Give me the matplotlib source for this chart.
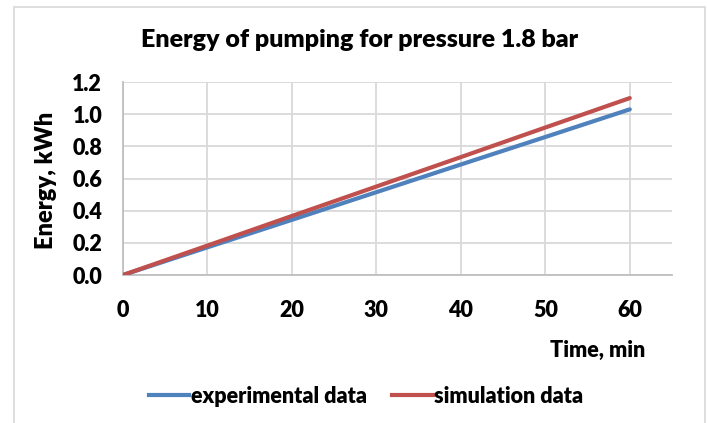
import matplotlib
matplotlib.use("Agg")
import matplotlib.pyplot as plt
from matplotlib.lines import Line2D
from matplotlib.patches import Rectangle

time_min = [0, 10, 20, 30, 40, 50, 60]
experimental = [0.0, 0.172, 0.343, 0.515, 0.687, 0.858, 1.03]
simulation = [0.0, 0.183, 0.367, 0.55, 0.733, 0.917, 1.10]
x_ticks = [0, 10, 20, 30, 40, 50, 60]
y_ticks = [0.0, 0.2, 0.4, 0.6, 0.8, 1.0, 1.2]
title = "Energy of pumping for pressure 1.8 bar"
xlabel = "Time, min"
ylabel = "Energy, kWh"
labels = ["experimental data", "simulation data"]

BLUE = "#4F81BD"
RED = "#C0504D"
W, H = 707, 423
FW = "heavy"
FS = 15.5

plt.rcParams['font.family'] = ['Lato', 'DejaVu Sans']

fig = plt.figure(figsize=(W / 100, H / 100), dpi=100)
fig.patch.set_facecolor("white")
fig.patches.append(Rectangle((14 / W, -0.05), (705 - 14) / W, 1.05 - 7 / H,
                             transform=fig.transFigure, fill=False,
                             edgecolor="#D9D9D9", linewidth=1.2))

ax = fig.add_axes([123 / W, 1 - 275 / H, (672 - 123) / W, (275 - 82) / H])
ax.plot(time_min, experimental, color=BLUE, linewidth=3.0, solid_capstyle="round", zorder=3)
ax.plot(time_min, simulation, color=RED, linewidth=3.0, solid_capstyle="round", zorder=4)

ax.set_xlim(0, 65)
ax.set_ylim(0, 1.2)
ax.set_xticks(x_ticks)
ax.set_yticks(y_ticks)
ax.set_xticklabels([str(t) for t in x_ticks], fontsize=FS, fontweight=FW)
ax.set_yticklabels([f"{t:.1f}" for t in y_ticks], fontsize=FS, fontweight=FW)
ax.tick_params(axis="both", length=0)
ax.tick_params(axis="x", pad=18)
ax.tick_params(axis="y", pad=15)
ax.grid(True, color="#D9D9D9", linewidth=1.3)
ax.set_axisbelow(True)
for s in ["top", "right"]:
    ax.spines[s].set_visible(False)
for s in ["left", "bottom"]:
    ax.spines[s].set_color("#BFBFBF")
    ax.spines[s].set_linewidth(1.3)

fig.text(360 / W, 1 - 40 / H, title, ha="center", va="center", fontsize=18, fontweight=FW)
fig.text(598 / W, 1 - 350 / H, xlabel, ha="center", va="center", fontsize=FS, fontweight=FW)
fig.text(46 / W, 1 - 180 / H, ylabel, ha="center", va="center", rotation=90,
         fontsize=17, fontweight=FW)

handles = [Line2D([0], [0], color=BLUE, linewidth=3.0),
           Line2D([0], [0], color=RED, linewidth=3.0)]
fig.legend(handles, labels, loc="center", bbox_to_anchor=(366 / W, 1 - 396 / H), ncol=2,
           frameon=False, prop={"size": FS, "weight": FW}, handlelength=1.9,
           handletextpad=0.05, columnspacing=1.2, borderaxespad=0)

fig.savefig("out.png", dpi=100)
